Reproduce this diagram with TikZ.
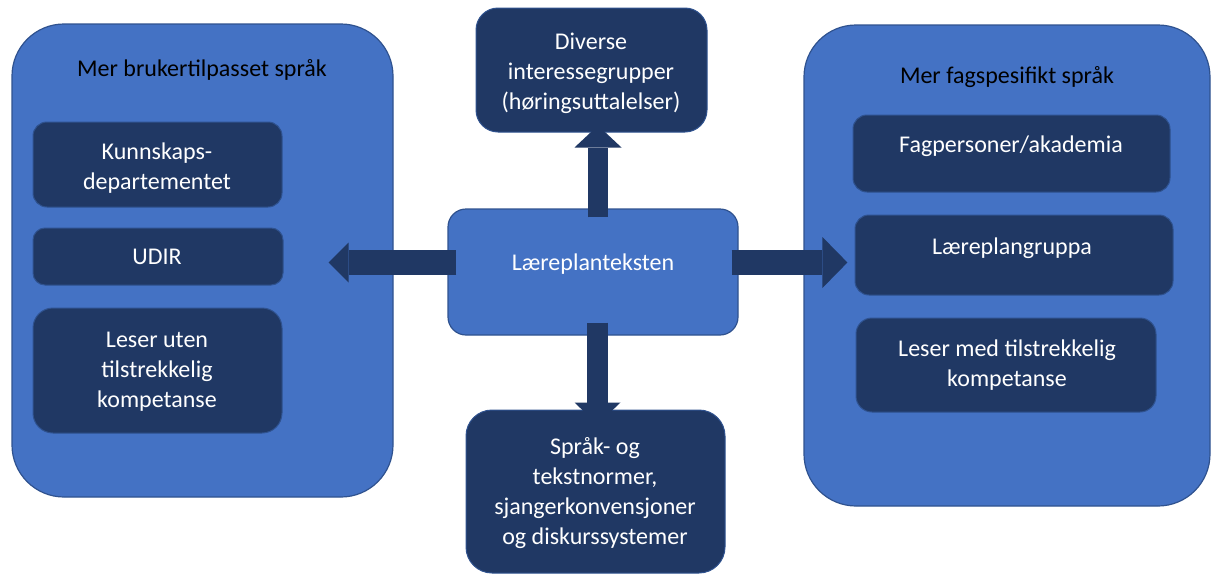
\documentclass[tikz,border=0pt]{standalone}
\usepackage{fontspec}
\setmainfont{Carlito}
\usetikzlibrary{arrows.meta}
\definecolor{midblue}{HTML}{4472C4}
\definecolor{bordblue}{HTML}{2F528F}
\definecolor{darkblue}{HTML}{203864}
\tikzset{
  bigbox/.style={draw=bordblue, fill=midblue, line width=1.2pt, rounded corners=52pt, inner sep=0pt},
  centerbox/.style={draw=bordblue, fill=midblue, line width=1.2pt, rounded corners=18pt, inner sep=0pt},
  darkbox/.style={draw=bordblue, fill=darkblue, line width=1pt, inner sep=0pt},
  wtext/.style={text=white, align=center, font=\fontsize{24}{30}\selectfont, inner sep=0pt},
  btext/.style={text=black, align=center, font=\fontsize{24}{30}\selectfont, inner sep=0pt},
  blockarrow/.style={draw=darkblue, line cap=butt},
}
\begin{document}
\begin{tikzpicture}[x=1pt, y=-1pt]
\useasboundingbox (0,0) rectangle (1211,576);
% big containers
\node[bigbox, minimum width=381pt, minimum height=473pt] (L) at (202.5,260.5) {};
\node[bigbox, minimum width=406pt, minimum height=481pt] (R) at (1007,265.5) {};
\node[btext] (Lt) at (202,70) {Mer brukertilpasset språk};
\node[btext] (Rt) at (1007,77) {Mer fagspesifikt språk};
% left inner boxes
\node[darkbox, rounded corners=14pt, minimum width=249pt, minimum height=85pt] (K) at (157.5,164.5) {};
\node[darkbox, rounded corners=12pt, minimum width=250pt, minimum height=57pt] (U) at (158,256.5) {};
\node[darkbox, rounded corners=20pt, minimum width=249pt, minimum height=125pt] (LU) at (157.5,370.5) {};
\node[wtext] (Kt) at (157,168) {Kunnskaps-\\departementet};
\node[wtext] (Ut) at (157,257) {UDIR};
\node[wtext] (LUt) at (157,372) {Leser uten\\tilstrekkelig\\kompetanse};
% right inner boxes
\node[darkbox, rounded corners=14pt, minimum width=317pt, minimum height=77pt] (F) at (1011.5,153.5) {};
\node[darkbox, rounded corners=14pt, minimum width=318pt, minimum height=80pt] (G) at (1014,255) {};
\node[darkbox, rounded corners=16pt, minimum width=300pt, minimum height=94pt] (LM) at (1006,365) {};
\node[wtext] (Ft) at (1011,146) {Fagpersoner/akademia};
\node[wtext] (Gt) at (1012,248) {Læreplangruppa};
\node[wtext] (LMt) at (1007,365) {Leser med tilstrekkelig\\kompetanse};
% centre, top, bottom
\node[centerbox, minimum width=290pt, minimum height=126pt] (C) at (593,272) {};
\node[darkbox, rounded corners=22pt, minimum width=231pt, minimum height=124pt] (T) at (591.5,70) {};
\node[darkbox, rounded corners=26pt, minimum width=259pt, minimum height=163pt] (B) at (595.5,491.5) {};
\node[wtext] (Ct) at (593,264) {Læreplanteksten};
\node[wtext] (Tt) at (591,73) {Diverse\\interessegrupper\\(høringsuttalelser)};
\node[wtext] (Bt) at (595,493) {Språk- og\\tekstnormer,\\sjangerkonvensjoner\\og diskurssystemer};
% block arrows
\draw[blockarrow, line width=25pt, -{Triangle[length=20pt, width=40pt, line width=0pt]}]
  ([shift={(9,-9.5)}]C.west) -- ([shift={(-65,2)}]L.east);
\draw[blockarrow, line width=25pt, -{Triangle[length=25pt, width=51pt, line width=0pt]}]
  ([shift={(-7,-9.5)}]C.east) -- ([shift={(44,-3)}]R.west);
\draw[blockarrow, line width=20pt, -{Triangle[length=22pt, width=47pt, line width=0pt]}]
  ([shift={(5,9)}]C.north) -- ([shift={(6.5,-7)}]T.south);
\draw[blockarrow, line width=21pt, -{Triangle[length=22pt, width=46pt, line width=0pt]}]
  ([shift={(4.5,-13)}]C.south) -- ([shift={(2,15)}]B.north);
\end{tikzpicture}
\end{document}
